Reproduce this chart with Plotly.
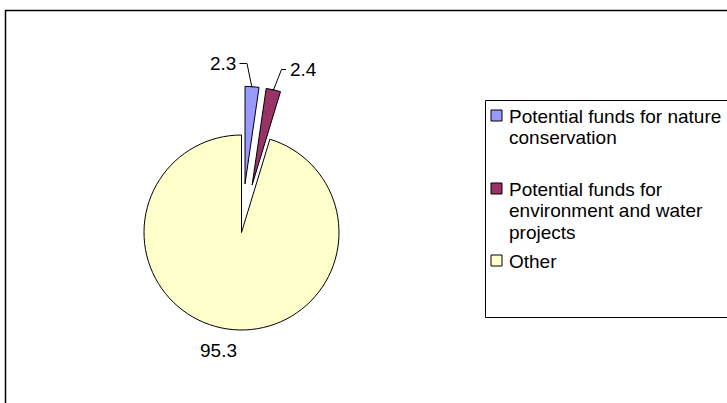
import math
import plotly.graph_objects as go

# ---- data ----
categories = [
    "Potential funds for nature conservation",
    "Potential funds for environment and water projects",
    "Other",
]
legend_lines = [
    ["Potential funds for nature", "conservation"],
    ["Potential funds for", "environment and water", "projects"],
    ["Other"],
]
values = [2.3, 2.4, 95.3]
colors = ["#9999FF", "#993366", "#FFFFCC"]
pulls = [0.5, 0.5, 0.0]

# ---- layout geometry (pixels) ----
W, H = 727, 403
CX, CY, R = 241.5, 232.5, 97.5
FONT = "Liberation Sans, Arial, sans-serif"


def px(x):
    return x / W


def py(y):
    return 1 - y / H


half = R * (1 + max(pulls))
dom_x = [px(CX - half), px(CX + half)]
dom_y = [py(CY + half), py(CY - half)]

fig = go.Figure(
    go.Pie(
        labels=categories,
        values=values,
        pull=pulls,
        sort=False,
        direction="clockwise",
        rotation=0,
        textinfo="none",
        hoverinfo="label+value",
        showlegend=False,
        marker=dict(colors=colors, line=dict(color="black", width=1)),
        domain=dict(x=dom_x, y=dom_y),
    )
)

# slice mid angles (degrees clockwise from 12 o'clock) and edge points
total = sum(values)
cum = 0.0
edges = []
for v, p in zip(values, pulls):
    mid = (cum + v / 2) / total * 360
    cum += v
    dist = R * p + R - 1
    ex = CX + dist * math.sin(math.radians(mid))
    ey = CY - dist * math.cos(math.radians(mid))
    edges.append((ex, ey))

label_pos = [
    dict(x=238, y=64, xanchor="right"),
    dict(x=287.5, y=70, xanchor="left"),
    dict(x=218.5, y=350, xanchor="center"),
]
annotations = []
for v, lp in zip(values, label_pos):
    annotations.append(
        dict(
            text=f"{v}",
            x=px(lp["x"]),
            y=py(lp["y"]),
            xref="paper",
            yref="paper",
            xanchor=lp["xanchor"],
            yanchor="middle",
            showarrow=False,
            font=dict(family=FONT, size=19, color="black"),
        )
    )

# leader lines (elbow) for the two small slices
elbows = [((239.5, 63.5), (247, 63.5)), ((286, 69.5), (281.5, 69.5))]
shapes = []
for (start, elbow), (ex, ey) in zip(elbows, edges[:2]):
    path = "M {} {} L {} {} L {} {}".format(
        px(start[0]), py(start[1]), px(elbow[0]), py(elbow[1]), px(ex), py(ey)
    )
    shapes.append(
        dict(type="path", path=path, xref="paper", yref="paper",
             line=dict(color="black", width=1))
    )

# outer chart border
shapes.append(
    dict(type="rect", xref="paper", yref="paper",
         x0=px(5.5), y0=py(10.5), x1=px(780), y1=py(440),
         line=dict(color="black", width=1.5), fillcolor="rgba(0,0,0,0)", layer="below")
)
# legend box
shapes.append(
    dict(type="rect", xref="paper", yref="paper",
         x0=px(485.5), y0=py(100.5), x1=px(780), y1=py(317.5),
         line=dict(color="black", width=1), fillcolor="rgba(0,0,0,0)", layer="below")
)

# legend entries (key squares + wrapped text)
row_top = [116, 189, 261]
line_gap = 21.5
for lines, col, y0 in zip(legend_lines, colors, row_top):
    shapes.append(
        dict(type="rect", xref="paper", yref="paper",
             x0=px(491), x1=px(502), y0=py(y0 - 6), y1=py(y0 + 5),
             line=dict(color="black", width=1), fillcolor=col)
    )
    for i, txt in enumerate(lines):
        annotations.append(
            dict(
                text=txt,
                x=px(507),
                y=py(y0 + i * line_gap),
                xref="paper",
                yref="paper",
                xanchor="left",
                yanchor="middle",
                showarrow=False,
                font=dict(family=FONT, size=19, color="black"),
            )
        )

fig.update_layout(
    width=W,
    height=H,
    margin=dict(l=0, r=0, t=0, b=0),
    paper_bgcolor="white",
    plot_bgcolor="white",
    font=dict(family=FONT, size=18, color="black"),
    annotations=annotations,
    shapes=shapes,
)

fig.write_html("out.html")
